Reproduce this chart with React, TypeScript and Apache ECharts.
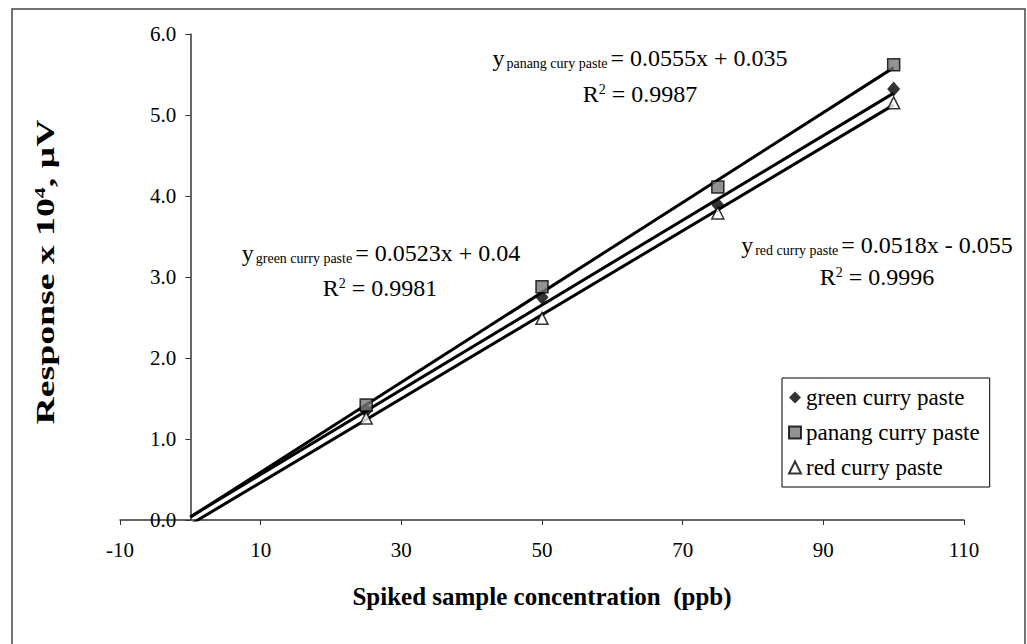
import React, { useEffect, useRef } from "react";
import * as echarts from "echarts";

const concentrations = [25, 50, 75, 100];
const greenValues = [1.35, 2.75, 3.89, 5.32];
const panangValues = [1.42, 2.88, 4.11, 5.62];
const redValues = [1.26, 2.49, 3.79, 5.15];

const trendX = [0, 100];
const greenTrend = [0.04, 5.27];
const panangTrend = [0.035, 5.585];
const redTrend = [-0.055, 5.125];

const xTicks = { min: -10, max: 110, interval: 20 };
const yTicks = { min: 0, max: 6, interval: 1 };

const seriesNames = ["green curry paste", "panang curry paste", "red curry paste"];

const xTitle = "Spiked sample concentration  (ppb)";
const yTitle = "{a|Response x 10}{b|4}{a|, µV}";

const FONT = "Liberation Serif";

function pairs(xs: number[], ys: number[]) {
  return xs.map((x, i) => [x, ys[i]]);
}

const GRID_LEFT = 120;
const GRID_RIGHT = 63;
const CHART_W = 1027;

export default function App() {
  const ref = useRef<HTMLDivElement>(null);
  useEffect(() => {
    if (!ref.current) return;
    const chart = echarts.init(ref.current, undefined, { renderer: "svg" });
    const plotW = CHART_W - GRID_LEFT - GRID_RIGHT;
    const yAxisOffset = -((0 - xTicks.min) / (xTicks.max - xTicks.min)) * plotW;
    const eqRich = {
      y: { fontFamily: FONT, fontSize: 24, color: "#000" },
      s: { fontFamily: FONT, fontSize: 14, color: "#000", verticalAlign: "bottom", padding: [0, 3, 0, 2] },
      e: { fontFamily: FONT, fontSize: 24, color: "#000" },
      sup: { fontFamily: FONT, fontSize: 14, color: "#000", verticalAlign: "top" },
    };
    const eqText = (x: number, y: number, text: string) => ({
      type: "text",
      x,
      y,
      z: 100,
      style: { text, rich: eqRich, align: "center", verticalAlign: "middle", fill: "#000", font: `24px ${FONT}` },
    });
    const lineStyle = { color: "#000", width: 3 };
    chart.setOption({
      animation: false,
      backgroundColor: "#fff",
      grid: { left: GRID_LEFT, right: GRID_RIGHT, top: 34, bottom: 124, containLabel: false, outerBoundsMode: "none" },
      xAxis: {
        type: "value",
        min: xTicks.min,
        max: xTicks.max,
        interval: xTicks.interval,
        name: xTitle,
        nameLocation: "middle",
        nameGap: 64,
        nameTextStyle: { fontFamily: FONT, fontSize: 25, fontWeight: "bold", color: "#000" },
        axisLine: { onZero: false, lineStyle: { color: "#333", width: 1.5 } },
        axisTick: { show: true, length: 5, lineStyle: { color: "#333" } },
        axisLabel: { fontFamily: FONT, fontSize: 21, color: "#000", margin: 19 },
        splitLine: { show: false },
      },
      yAxis: {
        type: "value",
        min: yTicks.min,
        max: yTicks.max,
        interval: yTicks.interval,
        offset: yAxisOffset,
        axisLine: { onZero: false, lineStyle: { color: "#333", width: 1.5 } },
        axisTick: { show: true, length: 5, lineStyle: { color: "#333" } },
        axisLabel: { fontFamily: FONT, fontSize: 21, color: "#000", margin: 14, formatter: (v: number) => v.toFixed(1) },
        splitLine: { show: false },
      },
      legend: {
        orient: "vertical",
        left: 782,
        top: 378,
        data: seriesNames,
        itemWidth: 12,
        itemHeight: 12,
        itemGap: 12,
        padding: [8, 10, 8, 6],
        borderColor: "#000",
        borderWidth: 1,
        backgroundColor: "#fff",
        textStyle: { fontFamily: FONT, fontSize: 23, color: "#000" },
      },
      series: [
        { type: "line", data: pairs(trendX, greenTrend), symbol: "none", lineStyle, z: 2, silent: true },
        { type: "line", data: pairs(trendX, panangTrend), symbol: "none", lineStyle, z: 2, silent: true },
        { type: "line", data: pairs(trendX, redTrend), symbol: "none", lineStyle, z: 2, silent: true, clip: true },
        {
          name: seriesNames[0],
          type: "scatter",
          data: pairs(concentrations, greenValues),
          symbol: "diamond",
          symbolSize: [13, 15],
          itemStyle: { color: "#000" },
          z: 5,
        },
        {
          name: seriesNames[1],
          type: "scatter",
          data: pairs(concentrations, panangValues),
          symbol: "rect",
          symbolSize: 12,
          itemStyle: { color: "#777", borderColor: "#000", borderWidth: 1.5 },
          z: 5,
        },
        {
          name: seriesNames[2],
          type: "scatter",
          data: pairs(concentrations, redValues),
          symbol: "triangle",
          symbolSize: 12,
          itemStyle: { color: "#fff", borderColor: "#000", borderWidth: 1.5 },
          z: 5,
        },
      ],
      graphic: [
        {
          type: "rect",
          shape: { x: 12, y: 9, width: 1013, height: 700 },
          style: { fill: "none", stroke: "#444", lineWidth: 1.5 },
          z: -1,
          silent: true,
        },
        {
          type: "text",
          x: 45,
          y: 272,
          rotation: Math.PI / 2,
          scaleX: 1.45,
          scaleY: 1,
          z: 100,
          style: {
            text: yTitle,
            align: "center",
            verticalAlign: "middle",
            fill: "#000",
            font: `bold 26px ${FONT}`,
            rich: {
              a: { fontFamily: FONT, fontSize: 26, fontWeight: "bold", color: "#000" },
              b: { fontFamily: FONT, fontSize: 15, fontWeight: "bold", color: "#000", verticalAlign: "top" },
            },
          },
        },
        eqText(640, 58, "{y|y}{s|panang cury paste}{e|= 0.0555x + 0.035}"),
        eqText(640, 94, "{e|R}{sup|2}{e| = 0.9987}"),
        eqText(381, 253, "{y|y}{s|green curry paste}{e|= 0.0523x + 0.04}"),
        eqText(380, 288, "{e|R}{sup|2}{e| = 0.9981}"),
        eqText(877, 245, "{y|y}{s|red curry paste}{e|= 0.0518x - 0.055}"),
        eqText(877, 277, "{e|R}{sup|2}{e| = 0.9996}"),
      ],
    });
    return () => chart.dispose();
  }, []);
  return <div ref={ref} style={{ position: "fixed", left: 0, top: 0, width: 1027, height: 644 }} />;
}
